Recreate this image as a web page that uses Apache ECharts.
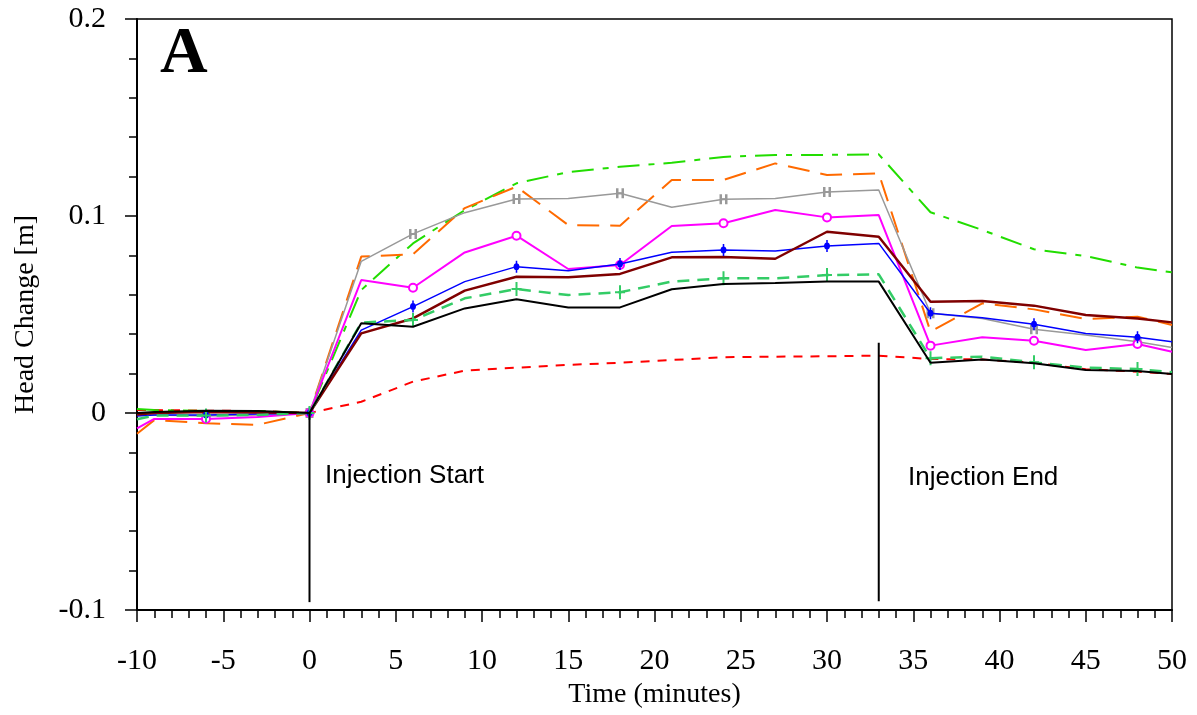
<!DOCTYPE html>
<html>
<head>
<meta charset="utf-8">
<title>Head Change</title>
<script src="https://cdn.jsdelivr.net/npm/echarts@6/dist/echarts.min.js"></script>
<style>
  html,body{margin:0;padding:0;background:#fff;}
  #headChart{width:1197px;height:715px;}
</style>
</head>
<body>
<div id="headChart"></div>
<script>
// time points (minutes)
var times = [-10, -9, -6, -3, 0, 3, 6, 9, 12, 15, 18, 21, 24, 27, 30, 33, 36, 39, 42, 45, 48, 50];
// head change per well [m]
var greenDashDot = [0.002, 0.0015, 0.001, 0.001, 0, 0.0624, 0.0861, 0.103, 0.1166, 0.1223, 0.125, 0.127, 0.130, 0.131, 0.131, 0.1313, 0.1019, 0.0929, 0.0831, 0.0797, 0.0738, 0.0714];
var orangeDash = [-0.0105, -0.0036, -0.0052, -0.006, 0, 0.0794, 0.0806, 0.104, 0.1149, 0.0954, 0.0951, 0.1183, 0.1183, 0.1267, 0.1208, 0.1217, 0.0413, 0.0557, 0.0526, 0.0477, 0.0489, 0.0447];
var grayH = [-0.001, -0.001, -0.0015, -0.001, 0, 0.077, 0.0909, 0.1017, 0.1086, 0.1089, 0.1115, 0.1044, 0.1085, 0.1089, 0.1122, 0.1132, 0.0506, 0.048, 0.0425, 0.0396, 0.0362, 0.0333];
var magentaO = [-0.0078, -0.003, -0.003, -0.002, 0, 0.0675, 0.0636, 0.0815, 0.090, 0.0731, 0.0751, 0.0949, 0.0963, 0.103, 0.0993, 0.1005, 0.0342, 0.0384, 0.0367, 0.032, 0.035, 0.0311];
var blueS = [-0.0015, -0.001, -0.001, -0.0005, 0, 0.0421, 0.054, 0.0667, 0.0743, 0.0722, 0.0756, 0.0816, 0.0827, 0.0822, 0.0848, 0.0861, 0.0506, 0.0484, 0.045, 0.0404, 0.0384, 0.0362];
var darkRed = [-0.0007, 0, 0.0005, 0.0003, 0, 0.0404, 0.048, 0.0621, 0.0692, 0.0689, 0.0706, 0.079, 0.0792, 0.0783, 0.092, 0.0895, 0.0565, 0.0569, 0.0545, 0.0497, 0.048, 0.046];
var greenPlus = [-0.0032, -0.0013, -0.0013, -0.001, 0, 0.0459, 0.0472, 0.0582, 0.0629, 0.0599, 0.0613, 0.0667, 0.0684, 0.0684, 0.070, 0.0704, 0.0278, 0.0286, 0.0257, 0.023, 0.0223, 0.0207];
var blackLine = [0, 0.0005, 0.0012, 0.001, 0, 0.0455, 0.0438, 0.0531, 0.0577, 0.0536, 0.0536, 0.0628, 0.0655, 0.066, 0.0667, 0.0667, 0.0255, 0.0272, 0.0252, 0.0218, 0.0213, 0.0198];
var redDash = [0.0015, 0.0015, 0.0012, 0.001, 0, 0.0057, 0.0159, 0.0215, 0.023, 0.0244, 0.0255, 0.0269, 0.0283, 0.0286, 0.0288, 0.0291, 0.0274, 0.0272, 0.0255, 0.0222, 0.021, 0.0198];
// injection start / end marker lines
var startLine = [[0, 0], [0, -0.096]];
var endLine = [[33, 0.0357], [33, -0.0955]];
var yTicks = ['-0.1', '0', '0.1', '0.2'];

var serif = 'Liberation Serif';
var symH = 'path://M0,0h2.5v10h-2.5z M5.5,0h2.5v10h-2.5z M0,4h8v2h-8z';
var symS = 'path://M2.5,0h1v12h-1z M3,2.5C5.6,2.5 5.6,9.5 3,9.5C0.4,9.5 0.4,2.5 3,2.5z';
var symPlus = 'path://M4,0h2v14h-2z M0,6h10v2h-10z';

//把时间和数值配成点
function pairs(vals){
    var arr = [];
    for(var i=0;i<times.length;i++){
        arr.push([times[i], vals[i]]);
    }
    return arr;
}
//符号只画在每6分钟
function markEvery6(size){
    return function(v){
        return (v[0] % 6 === 0) ? size : 0;
    };
}

function lineSeries(name, vals, color, width, dash, symbol, size, z){
    var s = {
        name: name,
        type: 'line',
        data: pairs(vals),
        z: z,
        lineStyle: {color: color, width: width, type: dash || 'solid'},
        itemStyle: {color: color},
        symbol: 'none',
        silent: true
    };
    if(symbol){
        s.symbol = symbol;
        s.showSymbol = true;
        s.symbolSize = markEvery6(size);
        if(symbol == 'emptyCircle'){
            s.itemStyle = {color: color, borderColor: color, borderWidth: 1.8};
        }
    }
    return s;
}

var myChart = echarts.init(document.getElementById('headChart'));
var option = {
    animation: false,
    backgroundColor: '#fff',
    grid: {left: 137, right: 25, top: 19, bottom: 105, show: true, borderColor: '#000', borderWidth: 1.5},
    xAxis: {
        type: 'value', min: -10, max: 50, interval: 5,
        name: 'Time (minutes)', nameLocation: 'middle', nameGap: 66,
        nameTextStyle: {fontFamily: serif, fontSize: 28, color: '#000'},
        axisLine: {onZero: false, lineStyle: {color: '#000', width: 2}},
        axisTick: {length: 12, lineStyle: {color: '#000', width: 1.5}},
        minorTick: {show: true, splitNumber: 5, length: 8, lineStyle: {color: '#000', width: 1.5}},
        splitLine: {show: false},
        axisLabel: {fontFamily: serif, fontSize: 30, color: '#000', margin: 36}
    },
    yAxis: {
        type: 'value', min: -0.1, max: 0.2, interval: 0.1,
        name: 'Head Change [m]', nameLocation: 'middle', nameGap: 97,
        nameTextStyle: {fontFamily: serif, fontSize: 28, color: '#000'},
        axisLine: {onZero: false, lineStyle: {color: '#000', width: 2}},
        axisTick: {length: 12, lineStyle: {color: '#000', width: 1.5}},
        minorTick: {show: true, splitNumber: 5, length: 8, lineStyle: {color: '#000', width: 1.5}},
        splitLine: {show: false},
        axisLabel: {
            fontFamily: serif, fontSize: 30, color: '#000', margin: 31,
            formatter: function(v){
                var idx = Math.round((v + 0.1) / 0.1);
                return yTicks[idx];
            }
        }
    },
    series: [
        lineSeries('red', redDash, '#ff0000', 2, [9, 8], null, 0, 2),
        lineSeries('greenDashDot', greenDashDot, '#22dd00', 2, [22, 9, 6, 9], null, 0, 3),
        lineSeries('orange', orangeDash, '#ff6a00', 2, [22, 11], null, 0, 3),
        lineSeries('gray', grayH, '#999999', 1.5, null, symH, [8, 10], 4),
        lineSeries('magenta', magentaO, '#ff00ff', 2, null, 'emptyCircle', 8, 4),
        lineSeries('blue', blueS, '#0000ff', 1.5, null, symS, [6, 12], 5),
        lineSeries('darkred', darkRed, '#7f0000', 2.5, null, null, 0, 5),
        lineSeries('greenPlus', greenPlus, '#33cc66', 2.5, [12, 8], symPlus, [10, 14], 5),
        lineSeries('black', blackLine, '#000000', 2, null, null, 0, 6),
        {type: 'line', data: startLine, symbol: 'none', silent: true, z: 7, lineStyle: {color: '#000', width: 2}},
        {type: 'line', data: endLine, symbol: 'none', silent: true, z: 7, lineStyle: {color: '#000', width: 2}}
    ],
    graphic: [
        {type: 'text', left: 160, top: 22, z: 10, style: {text: 'A', fontFamily: serif, fontWeight: 'bold', fontSize: 66, fill: '#000'}},
        {type: 'text', x: 325, y: 476, z: 10, style: {text: 'Injection Start', fontFamily: 'Liberation Sans', fontSize: 26, fill: '#000', verticalAlign: 'middle'}},
        {type: 'text', x: 908, y: 478, z: 10, style: {text: 'Injection End', fontFamily: 'Liberation Sans', fontSize: 26, fill: '#000', verticalAlign: 'middle'}}
    ]
};
myChart.setOption(option);
</script>
</body>
</html>
